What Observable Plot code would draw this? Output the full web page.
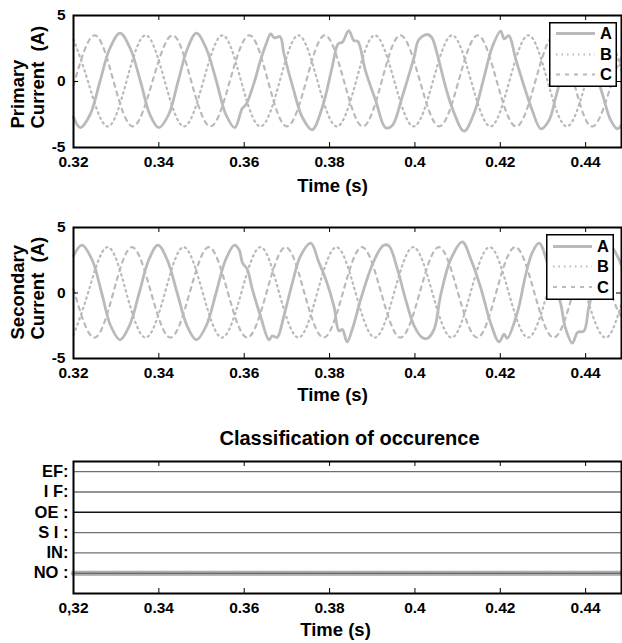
<!DOCTYPE html>
<html><head><meta charset="utf-8">
<script src="https://cdn.jsdelivr.net/npm/d3@7"></script>
<script src="https://cdn.jsdelivr.net/npm/@observablehq/plot@0.6"></script>
<style>
body{margin:0;background:#fff;}
#wrap{position:relative;width:622px;height:643px;overflow:hidden;font-family:"Liberation Sans",Arial,Helvetica,sans-serif;}
.panel{position:absolute;left:0;}
</style></head><body><div id="wrap"></div>
<script>
// ---------- data ----------
const xTicks = [0.32, 0.34, 0.36, 0.38, 0.40, 0.42, 0.44];
const xTickLabels = ["0.32", "0.34", "0.36", "0.38", "0.4", "0.42", "0.44"];
const xTickLabelsClass = ["0,32", "0.34", "0.36", "0.38", "0.4", "0.42", "0.44"];
const yTicks = [-5, 0, 5];
const yTickLabels = ["-5", "0", "5"];
const seriesNames = ["A", "B", "C"];

const primaryA = [[0.3200,-2.7],[0.3216,-3.5],[0.3239,-2.5],[0.3262,0],[0.3285,2.5],[0.3309,3.66],[0.3333,2.5],[0.3357,0],[0.3379,-2.5],[0.3400,-3.5],[0.3423,-2.5],[0.3445,0],[0.3467,2.5],[0.3488,3.66],[0.3511,2.5],[0.3535,0],[0.3557,-2.5],[0.3578,-3.5],[0.3595,-2.07],[0.3605,-1.7],[0.3624,0],[0.3638,1.6],[0.3652,2.9],[0.3662,3.6],[0.3671,3.3],[0.3684,3.4],[0.3693,2.1],[0.3716,-0.68],[0.3736,-2.7],[0.3759,-3.66],[0.3783,-1.95],[0.3806,1.08],[0.3820,2.85],[0.3830,2.98],[0.3845,3.86],[0.3857,3.1],[0.3866,3.05],[0.3884,0.83],[0.3908,-1.44],[0.3931,-3.5],[0.3947,-3.33],[0.3970,-1.19],[0.3998,1.84],[0.4009,3.16],[0.4029,3.56],[0.4040,3.3],[0.4052,2.1],[0.4072,-0.43],[0.4088,-2.07],[0.4115,-3.76],[0.4138,-2.45],[0.4162,0.33],[0.4181,2.6],[0.4201,3.81],[0.4209,3.23],[0.4220,3.48],[0.4236,1.72],[0.4259,-0.68],[0.4275,-2.2],[0.4295,-3.58],[0.4314,-2.95],[0.4330,-1.19],[0.4349,1.08],[0.4365,2.9],[0.4385,3.6],[0.4412,1.8],[0.4439,-0.93],[0.4459,-2.95],[0.4474,-3.58],[0.4484,-3.3]];
const primaryB = [[0.3200,3.2],[0.3234,0],[0.3279,-3.4],[0.3324,0],[0.3369,3.5],[0.3414,0],[0.3459,-3.4],[0.3504,0],[0.3549,3.5],[0.3593,0],[0.3638,-3.4],[0.3683,0],[0.3727,3.5],[0.3772,0],[0.3817,-3.4],[0.3862,0],[0.3906,3.5],[0.3952,0],[0.3997,-3.4],[0.4042,0],[0.4087,3.5],[0.4132,0],[0.4177,-3.4],[0.4221,0],[0.4266,3.5],[0.4311,0],[0.4356,-3.4],[0.4401,0],[0.4446,3.5],[0.4484,0.8]];
const primaryC = [[0.3200,-0.3],[0.3249,3.5],[0.3294,0],[0.3339,-3.4],[0.3385,0],[0.3432,3.5],[0.3476,0],[0.3521,-3.4],[0.3566,0],[0.3612,3.5],[0.3656,0],[0.3700,-3.4],[0.3745,0],[0.3789,3.5],[0.3834,0],[0.3878,-3.4],[0.3922,0],[0.3966,3.5],[0.4012,0],[0.4057,-3.4],[0.4102,0],[0.4147,3.5],[0.4192,0],[0.4237,-3.4],[0.4282,0],[0.4327,3.5],[0.4372,0],[0.4417,-3.4],[0.4462,0],[0.4484,1.8]];

const secondaryA = [[0.3200,2.84],[0.3220,3.65],[0.3244,2.5],[0.3266,0],[0.3287,-2.5],[0.3309,-3.57],[0.3331,-2.5],[0.3354,0],[0.3376,2.5],[0.3398,3.65],[0.3420,2.5],[0.3443,0],[0.3466,-2.5],[0.3488,-3.57],[0.3511,-2.5],[0.3534,0],[0.3556,2.5],[0.3577,3.65],[0.3588,3.3],[0.3596,2.3],[0.3607,1.82],[0.3619,0.29],[0.3638,-1.74],[0.3658,-3.57],[0.3666,-3.27],[0.3677,-3.4],[0.3693,-1.74],[0.3713,0.8],[0.3732,2.84],[0.3756,3.8],[0.3775,2.33],[0.3791,1.05],[0.3810,-0.98],[0.3822,-2.89],[0.3830,-2.79],[0.3841,-3.73],[0.3853,-2.79],[0.3873,-0.47],[0.3896,1.82],[0.3916,3.22],[0.3927,3.65],[0.3939,3.6],[0.3959,1.82],[0.3978,-0.47],[0.3998,-2.5],[0.4017,-3.4],[0.4029,-3.47],[0.4045,-2.76],[0.4060,-0.21],[0.4084,2.58],[0.4111,3.9],[0.4131,2.58],[0.4154,0.42],[0.4177,-2.25],[0.4197,-3.73],[0.4209,-3.14],[0.4216,-3.47],[0.4240,-1.49],[0.4259,1.31],[0.4275,3.09],[0.4291,3.8],[0.4315,1.8],[0.4341,-0.73],[0.4352,-2.6],[0.4369,-3.83],[0.4381,-3.0],[0.4396,-2.9],[0.4408,-0.98],[0.4440,2.5],[0.4458,3.6],[0.4474,2.84],[0.4484,2.1]];
const secondaryB = [[0.3200,-3.2],[0.3234,0],[0.3279,3.5],[0.3324,0],[0.3369,-3.4],[0.3414,0],[0.3458,3.5],[0.3503,0],[0.3548,-3.4],[0.3593,0],[0.3638,3.5],[0.3682,0],[0.3727,-3.4],[0.3771,0],[0.3816,3.5],[0.3861,0],[0.3906,-3.4],[0.3951,0],[0.3996,3.5],[0.4041,0],[0.4086,-3.4],[0.4130,0],[0.4175,3.5],[0.4220,0],[0.4265,-3.4],[0.4310,0],[0.4355,3.5],[0.4400,0],[0.4445,-3.4],[0.4484,-0.8]];
const secondaryC = [[0.3200,0.3],[0.3248,-3.4],[0.3293,0],[0.3337,3.5],[0.3382,0],[0.3427,-3.4],[0.3472,0],[0.3517,3.5],[0.3562,0],[0.3607,-3.4],[0.3652,0],[0.3697,3.5],[0.3741,0],[0.3786,-3.4],[0.3831,0],[0.3876,3.5],[0.3921,0],[0.3966,-3.4],[0.4011,0],[0.4056,3.5],[0.4101,0],[0.4146,-3.4],[0.4190,0],[0.4235,3.5],[0.4280,0],[0.4325,-3.4],[0.4370,0],[0.4415,3.5],[0.4460,0],[0.4484,-1.8]];

const classNames = ["NO", "IN", "SI", "OE", "IF", "EF"];
const classLabels = ["NO :", "IN:", "S I :", "OE :", "I F:", "EF:"];
const classOutput = [[0.32, "NO"], [0.4484, "NO"]];

// ---------- drawing ----------
const FONT = '"Liberation Sans", Arial, Helvetica, sans-serif';
const W = 622, ML = 73, MR = 1;
const xDomain = [0.32, 0.4484];
const WAVE = "#bababa";
const wrap = document.getElementById("wrap");
const toRows = arr => arr.map(([t, v]) => ({t, v}));
const xLab = new Map(xTicks.map((d, i) => [d, xTickLabels[i]]));
const xLabC = new Map(xTicks.map((d, i) => [d, xTickLabelsClass[i]]));
const yLab = new Map(yTicks.map((d, i) => [d, yTickLabels[i]]));

function place(node, top) {
  const div = document.createElement("div");
  div.className = "panel";
  div.style.top = top + "px";
  div.appendChild(node);
  wrap.appendChild(div);
}

function currentPanel({A, B, C, label1, label2, top, height, mb, timeDy, legendBox}) {
  const mt = 15;
  const plotH = height - mt - mb, plotW = W - ML - MR;
  const chart = Plot.plot({
    width: W, height, marginLeft: ML, marginRight: MR, marginTop: mt, marginBottom: mb,
    x: {domain: xDomain, label: null},
    y: {domain: [-5, 5], label: null},
    style: {fontFamily: FONT, fontWeight: "bold", fontSize: "15px", color: "#000", background: "transparent", overflow: "visible"},
    marks: [
      Plot.line(toRows(B), {x: "t", y: "v", stroke: WAVE, strokeWidth: 2.2, strokeDasharray: "1.5,4", curve: "natural"}),
      Plot.line(toRows(C), {x: "t", y: "v", stroke: WAVE, strokeWidth: 2.2, strokeDasharray: "4,5", curve: "natural"}),
      Plot.line(toRows(A), {x: "t", y: "v", stroke: WAVE, strokeWidth: 2.8, curve: "catmull-rom"}),
      Plot.frame({stroke: "#000", strokeWidth: 2}),
      Plot.tickX(xTicks, {x: d => d, stroke: "#000", insetTop: plotH - 5}),
      Plot.tickX(xTicks, {x: d => d, stroke: "#000", insetBottom: plotH - 5}),
      Plot.tickY([0], {y: d => d, stroke: "#000", insetRight: plotW - 5}),
      Plot.tickY([0], {y: d => d, stroke: "#000", insetLeft: plotW - 5}),
      Plot.axisX(xTicks, {tickSize: 0, tickPadding: 8, label: null, tickFormat: d => xLab.get(d), fontSize: 15.5}),
      Plot.axisY(yTicks, {tickSize: 0, tickPadding: 8, label: null, tickFormat: d => yLab.get(d), fontSize: 15.5}),
      Plot.text(["Time (s)"], {frameAnchor: "bottom", lineAnchor: "middle", dy: timeDy, dx: -15, fontSize: 18.5, fontWeight: "bold"}),
      Plot.text([label1], {frameAnchor: "bottom-left", lineAnchor: "middle", rotate: -90, dx: -55, dy: -19, textAnchor: "start", fontSize: 18.5, fontWeight: "bold"}),
      Plot.text([label2], {frameAnchor: "bottom-left", lineAnchor: "middle", rotate: -90, dx: -35, dy: -19, textAnchor: "start", fontSize: 18.5, fontWeight: "bold"})
    ]
  });
  place(chart, top);
  // legend
  const [lx, ly, lw, lh, rowsY] = legendBox;
  const lg = d3.select(wrap).append("svg")
    .attr("width", lw).attr("height", lh)
    .style("position", "absolute").style("left", lx + "px").style("top", (top + ly) + "px")
    .style("background", "#fff");
  lg.append("rect").attr("x", 0.75).attr("y", 0.75).attr("width", lw - 1.5).attr("height", lh - 1.5)
    .attr("fill", "#fff").attr("stroke", "#000").attr("stroke-width", 1.5);
  const dashes = [null, "1.5,4", "4,5"];
  seriesNames.forEach((name, i) => {
    lg.append("line").attr("x1", 7).attr("x2", 46).attr("y1", rowsY[i]).attr("y2", rowsY[i])
      .attr("stroke", WAVE).attr("stroke-width", i === 0 ? 2.8 : 2.2).attr("stroke-dasharray", dashes[i]);
    lg.append("text").attr("x", 51).attr("y", rowsY[i]).attr("dy", "0.36em")
      .attr("font-family", FONT).attr("font-weight", "bold").attr("font-size", 16.5).text(name);
  });
}

currentPanel({A: primaryA, B: primaryB, C: primaryC, label1: "Primary", label2: "Current\u00a0 (A)",
  top: 0, height: 200, mb: 53, timeDy: 39, legendBox: [549, 21.5, 68, 65, [11.5, 32.5, 52.5]]});
currentPanel({A: secondaryA, B: secondaryB, C: secondaryC, label1: "Secondary", label2: "Current\u00a0 (A)",
  top: 212, height: 196, mb: 50, timeDy: 37, legendBox: [546, 22, 68, 66, [12.5, 32.5, 53]]});

// classification panel
(function () {
  const mt = 40, mb = 50, height = 222;
  const plotH = height - mt - mb;
  const levelOf = c => classNames.indexOf(c);
  const levels = classNames.map((c, i) => i);
  const labelOf = new Map(levels.map(i => [i, classLabels[i]]));
  const rows = classOutput.map(([t, c]) => ({t, c}));
  const chart = Plot.plot({
    width: W, height, marginLeft: ML, marginRight: MR, marginTop: mt, marginBottom: mb,
    x: {domain: xDomain, label: null},
    y: {domain: [-1, 5.5], label: null},
    style: {fontFamily: FONT, fontWeight: "bold", fontSize: "15px", color: "#000", background: "transparent", overflow: "visible"},
    marks: [
      Plot.ruleY(classNames.filter(c => c !== "NO"), {y: levelOf, stroke: c => c === "OE" ? "#111" : "#707070", strokeWidth: 1.4}),
      Plot.line(rows, {x: "t", y: d => levelOf(d.c), stroke: "#d2d2d2", strokeWidth: 5}),
      Plot.line(rows, {x: "t", y: d => levelOf(d.c), stroke: "#adadad", strokeWidth: 5, strokeDasharray: "1,2"}),
      Plot.line(rows, {x: "t", y: d => levelOf(d.c), stroke: "#555", strokeWidth: 1.1}),
      Plot.frame({stroke: "#000", strokeWidth: 2}),
      Plot.tickX(xTicks, {x: d => d, stroke: "#000", insetTop: plotH - 5}),
      Plot.tickX(xTicks, {x: d => d, stroke: "#000", insetBottom: plotH - 5}),
      Plot.axisX(xTicks, {tickSize: 0, tickPadding: 8, label: null, tickFormat: d => xLabC.get(d), fontSize: 15.5}),
      Plot.axisY(levels, {tickSize: 0, tickPadding: 5, label: null, tickFormat: d => labelOf.get(d), fontSize: 16.5}),
      Plot.text(["Classification of occurence"], {frameAnchor: "top", lineAnchor: "middle", dy: -23, dx: 2, fontSize: 20, fontWeight: "bold"}),
      Plot.text(["Time (s)"], {frameAnchor: "bottom", lineAnchor: "middle", dy: 37, dx: -12, fontSize: 18.5, fontWeight: "bold"})
    ]
  });
  place(chart, 421);
})();
</script></body></html>
